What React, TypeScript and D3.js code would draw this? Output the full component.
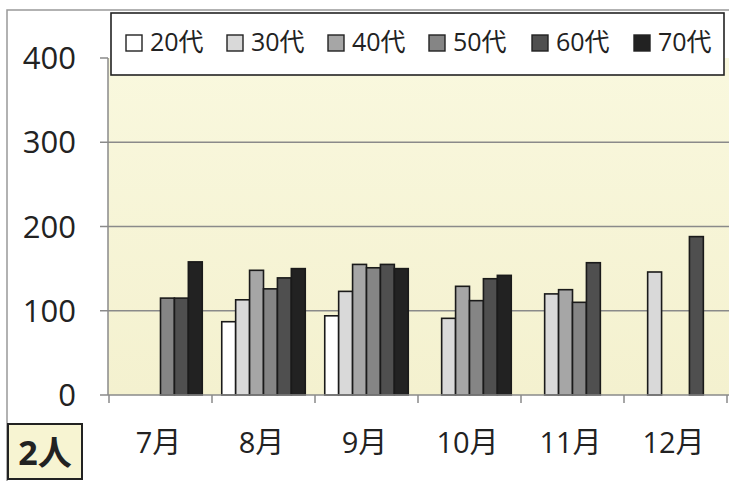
import React from "react";
import * as d3 from "d3";

const months = ["7月", "8月", "9月", "10月", "11月", "12月"];
const seriesNames = ["20代", "30代", "40代", "50代", "60代", "70代"];
const seriesColors = ["#ffffff", "#d9d9d9", "#a6a6a6", "#858585", "#4f4f4f", "#222222"];
// values per series, indexed by month (null = no bar)
const v20 = [null, 87, 94, null, null, null];
const v30 = [null, 113, 123, 91, 120, 146];
const v40 = [null, 148, 155, 129, 125, null];
const v50 = [115, 126, 151, 112, 110, null];
const v60 = [115, 139, 155, 138, 157, 188];
const v70 = [158, 150, 150, 142, null, null];
const seriesValues = [v20, v30, v40, v50, v60, v70];
const yTicks = [0, 100, 200, 300, 400];

const W = 729, H = 481;
const left = 108, right = 727, top = 58, bottom = 395;
const font = "'Open Sans', 'Noto Sans CJK JP', sans-serif";

export default function App() {
  const y = d3.scaleLinear().domain([0, 400]).range([bottom, top]);
  const x = d3.scaleBand().domain(months).range([left + 1, right]).paddingInner(0).paddingOuter(0);
  const inner = d3.scaleBand().domain(seriesNames).range([0, x.bandwidth()]).paddingOuter(0.7).paddingInner(0);

  const legendX = [126, 227, 328, 429, 532, 634];

  return (
    <svg width={W} height={H} style={{ position: "absolute", left: 0, top: 0, background: "#fff" }}>
      <defs>
        <linearGradient id="bg" x1="0" y1="0" x2="0" y2="1">
          <stop offset="0" stopColor="#f9f8de" />
          <stop offset="1" stopColor="#f4f1cf" />
        </linearGradient>
      </defs>
      <rect x={0} y={0} width={W} height={H} fill="#fff" />
      <rect x={7} y={10} width={W + 10} height={H + 10} fill="none" stroke="#999" strokeWidth={1.5} />
      <rect x={left} y={top} width={W - left} height={bottom - top} fill="url(#bg)" />
      {yTicks.filter(t => t > 0 && t < 400).map(t => (
        <line key={t} x1={left} x2={W} y1={y(t)} y2={y(t)} stroke="#8a8a8a" strokeWidth={1.3} />
      ))}
      {/* y axis */}
      <line x1={left} x2={left} y1={top} y2={bottom} stroke="#8a8a8a" strokeWidth={1.5} />
      {yTicks.map(t => (
        <g key={t}>
          <line x1={left - 8} x2={left} y1={y(t)} y2={y(t)} stroke="#8a8a8a" strokeWidth={1.5} />
          <text x={76} y={y(t) - 1} textAnchor="end" dominantBaseline="central" fontSize={31} fontFamily={font} fill="#222">{t}</text>
        </g>
      ))}
      {/* bars */}
      {seriesValues.map((vals, si) =>
        vals.map((v, mi) =>
          v == null ? null : (
            <rect key={`${si}-${mi}`}
              x={(x(months[mi]) as number) + (inner(seriesNames[si]) as number)}
              y={y(v)}
              width={inner.bandwidth()}
              height={bottom - y(v)}
              fill={seriesColors[si]} stroke="#1a1a1a" strokeWidth={1.6} />
          )
        )
      )}
      {/* x axis */}
      <line x1={left} x2={W} y1={bottom} y2={bottom} stroke="#8a8a8a" strokeWidth={1.5} />
      {months.map(m => (
        <line key={m} x1={x(m) as number} x2={x(m) as number} y1={bottom} y2={bottom + 8} stroke="#8a8a8a" strokeWidth={1.5} />
      ))}
      <line x1={right} x2={right} y1={bottom} y2={bottom + 8} stroke="#8a8a8a" strokeWidth={1.5} />
      {months.map(m => (
        <text key={m} x={(x(m) as number) + x.bandwidth() / 2 - 2} y={441} textAnchor="middle" dominantBaseline="central" fontSize={29} fontFamily={font} fill="#222">{m}</text>
      ))}
      {/* legend */}
      <rect x={111} y={13} width={613} height={62} fill="#fff" stroke="#222" strokeWidth={1.6} />
      {seriesNames.map((s, i) => (
        <g key={s}>
          <rect x={legendX[i]} y={35} width={16} height={16} fill={seriesColors[i]} stroke="#222" strokeWidth={1.4} />
          <text x={legendX[i] + 24} y={41} dominantBaseline="central" fontSize={25} fontFamily={font} fill="#222">{s}</text>
        </g>
      ))}
      {/* 2人 label */}
      <rect x={8} y={424} width={74} height={55} fill="#f7f4d2" stroke="#222" strokeWidth={2} />
      <text x={45} y={452} textAnchor="middle" dominantBaseline="central" fontSize={34} fontWeight="bold" fontFamily={font} fill="#222">2人</text>
    </svg>
  );
}
